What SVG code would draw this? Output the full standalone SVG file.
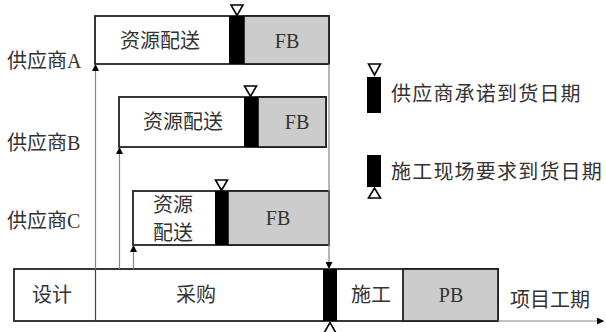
<svg xmlns="http://www.w3.org/2000/svg" width="606" height="332" viewBox="0 0 606 332">
<defs>
<style>
text{font-family:"Liberation Serif","Noto Sans CJK SC",serif;fill:#333;font-size:20px}
.box{fill:#fff;stroke:#222;stroke-width:1.8}
.fb{fill:#cccccc;stroke:#222;stroke-width:1.8}
.bar{fill:#000}
.tri{fill:#fff;stroke:#000;stroke-width:1.6}
.ln{stroke:#888;stroke-width:1.2;fill:none}
.c{text-anchor:middle;dominant-baseline:central}
</style>
<marker id="ah" viewBox="0 0 8 8" refX="8" refY="4" markerWidth="7" markerHeight="7" markerUnits="userSpaceOnUse" orient="auto">
<path d="M0,0 L8,4 L0,8 z" fill="#000"/>
</marker>
</defs>
<rect width="606" height="332" fill="#fff"/>

<g id="labels">
<text x="7" y="61" dominant-baseline="central">供应商A</text>
<text x="7" y="143" dominant-baseline="central">供应商B</text>
<text x="7" y="221" dominant-baseline="central">供应商C</text>
</g>

<g id="supplierA">
<rect class="box" x="95" y="16" width="234" height="48"/>
<rect class="fb" x="244" y="16" width="85" height="48"/>
<rect class="bar" x="229" y="16" width="15" height="48"/>
<polygon class="tri" points="231,5 243,5 237,15.5"/>
<text class="c" x="160" y="41" font-size="21">资源配送</text>
<text class="c" x="287" y="41">FB</text>
</g>

<g id="supplierB">
<rect class="box" x="119" y="97" width="207" height="50"/>
<rect class="fb" x="258" y="97" width="68" height="50"/>
<rect class="bar" x="244" y="97" width="14" height="50"/>
<polygon class="tri" points="244.5,86 256.5,86 250.5,96.5"/>
<text class="c" x="183" y="122" font-size="21">资源配送</text>
<text class="c" x="297" y="122">FB</text>
</g>

<g id="supplierC">
<rect class="box" x="133" y="191" width="196" height="54"/>
<rect class="fb" x="228" y="191" width="101" height="54"/>
<rect class="bar" x="215" y="191" width="13" height="54"/>
<polygon class="tri" points="215.5,180 227.5,180 221.5,190.5"/>
<text class="c" x="173" y="205" font-size="21">资源</text>
<text class="c" x="173" y="233" font-size="21">配送</text>
<text class="c" x="278" y="218">FB</text>
</g>

<g id="timeline">
<rect class="box" x="14" y="269" width="484" height="52"/>
<rect class="fb" x="403" y="269" width="95" height="52"/>
<line x1="95.5" y1="269" x2="95.5" y2="321" stroke="#444" stroke-width="1.2"/>
<rect class="bar" x="323" y="269" width="14" height="52"/>
<polygon class="tri" points="324,333 336,333 330,322.5"/>
<text class="c" x="52" y="295">设计</text>
<text class="c" x="196" y="295">采购</text>
<text class="c" x="371" y="295">施工</text>
<text class="c" x="451" y="295">PB</text>
<text class="c" x="550" y="300">项目工期</text>
</g>

<g id="legend">
<polygon class="tri" points="368.5,64 380.5,64 374.5,75"/>
<rect class="bar" x="367" y="77" width="14" height="36"/>
<text x="391" y="94" dominant-baseline="central" letter-spacing="1.2">供应商承诺到货日期</text>
<rect class="bar" x="367" y="155" width="14" height="32"/>
<polygon class="tri" points="368.5,198 380.5,198 374.5,188"/>
<text x="391" y="172" dominant-baseline="central" letter-spacing="1.2">施工现场要求到货日期</text>
</g>

<g id="connectors">
<line class="ln" x1="95.5" y1="269" x2="95.5" y2="64" marker-end="url(#ah)"/>
<line class="ln" x1="119.5" y1="269" x2="119.5" y2="147" marker-end="url(#ah)"/>
<line class="ln" x1="133.5" y1="269" x2="133.5" y2="245" marker-end="url(#ah)"/>
<line class="ln" x1="329" y1="64" x2="329" y2="269" marker-end="url(#ah)"/>
<line class="ln" x1="498" y1="321" x2="604" y2="321" marker-end="url(#ah)"/>
</g>
</svg>
